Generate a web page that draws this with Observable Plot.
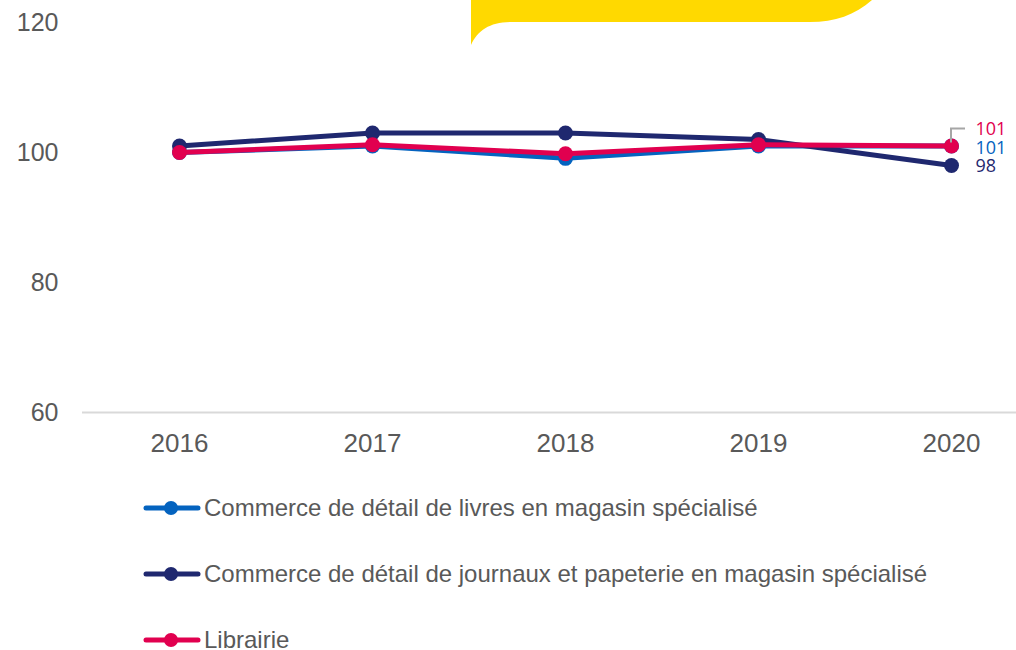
<!DOCTYPE html>
<html>
<head>
<meta charset="utf-8">
<script src="https://cdn.jsdelivr.net/npm/d3@7"></script>
<script src="https://cdn.jsdelivr.net/npm/@observablehq/plot@0.6"></script>
<style>
  html, body { margin: 0; padding: 0; background: #fff; }
  body { width: 1016px; height: 650px; overflow: hidden; position: relative; font-family: "Liberation Sans", Arial, sans-serif; }
  #chart { position: absolute; left: 0; top: 0; }
  #banner { position: absolute; left: 0; top: 0; pointer-events: none; }
  #legend { position: absolute; left: 143px; top: 475px; }
  .row { display: flex; align-items: center; height: 66px; color: #595959; font-size: 24px; white-space: nowrap; }
  .row svg { margin-right: 3px; }
</style>
</head>
<body>
<div id="chart"></div>
<svg id="banner" width="1016" height="60">
  <path d="M471,0 L872,0 C855,15 835,22 810,22 L512,22 C490,22 478,30 471,45 Z" fill="#FFD900"/>
</svg>
<div id="legend"></div>
<script>
const years = ["2016", "2017", "2018", "2019", "2020"];
const seriesNames = [
  "Commerce de détail de livres en magasin spécialisé",
  "Commerce de détail de journaux et papeterie en magasin spécialisé",
  "Librairie"
];
const livres = [100, 101, 99.1, 101, 101];
const journaux = [101, 103, 103, 102, 98];
const librairie = [100, 101.2, 99.8, 101.2, 101];
const endLabels = ["101", "98", "101"];
const yTicks = [60, 80, 100, 120];
const colors = ["#0463BF", "#1F286F", "#E1004F"];

const valuesBySeries = [livres, journaux, librairie];
const rows = [];
seriesNames.forEach((s, i) => years.forEach((y, j) => rows.push({series: s, year: y, value: valuesBySeries[i][j]})));
const bySeries = name => rows.filter(r => r.series === name);
const last = name => bySeries(name).filter(r => r.year === years[years.length - 1]);

const leader = (index, scales) => {
  const px = scales.x(years[4]), py = scales.y(librairie[4]);
  const p = document.createElementNS("http://www.w3.org/2000/svg", "path");
  p.setAttribute("d", `M${px},${py - 3} L${px},${py - 17} L${px + 14},${py - 17}`);
  p.setAttribute("fill", "none");
  p.setAttribute("stroke", "#A6A6A6");
  p.setAttribute("stroke-width", "2");
  return p;
};

const lineMarks = seriesNames.flatMap((s, i) => [
  Plot.line(bySeries(s), {x: "year", y: "value", stroke: colors[i], strokeWidth: 5}),
  Plot.dot(bySeries(s), {x: "year", y: "value", fill: colors[i], r: 7.5})
]);

const labelFont = {textAnchor: "start", fontSize: 18, fontFamily: "Open Sans, sans-serif", dx: 24};

const chart = Plot.plot({
  width: 1016,
  height: 470,
  marginLeft: 82,
  marginRight: 0,
  marginTop: 22,
  marginBottom: 58,
  style: {fontFamily: "Liberation Sans, Arial, sans-serif", color: "#595959", background: "transparent"},
  x: {type: "point", domain: years, range: [179, 951], padding: 0, label: null},
  y: {domain: [60, 120], label: null},
  marks: [
    Plot.axisY(yTicks, {tickSize: 0, tickPadding: 24, fontSize: 25, fill: "#595959", label: null}),
    Plot.axisX(years, {tickSize: 0, tickPadding: 21, fontSize: 26, fill: "#595959", label: null}),
    Plot.ruleY([60], {stroke: "#D9D9D9", strokeWidth: 2}),
    ...lineMarks,
    leader,
    Plot.text(last(seriesNames[2]), {x: "year", y: "value", text: () => endLabels[2], fill: colors[2], dy: -17, ...labelFont}),
    Plot.text(last(seriesNames[0]), {x: "year", y: "value", text: () => endLabels[0], fill: colors[0], dy: 2, ...labelFont}),
    Plot.text(last(seriesNames[1]), {x: "year", y: "value", text: () => endLabels[1], fill: colors[1], dy: 1, ...labelFont})
  ]
});
document.getElementById("chart").appendChild(chart);

const legend = document.getElementById("legend");
seriesNames.forEach((s, i) => {
  const row = document.createElement("div");
  row.className = "row";
  row.innerHTML = `<svg width="58" height="16"><line x1="3" y1="8" x2="55" y2="8" stroke="${colors[i]}" stroke-width="5" stroke-linecap="round"/><circle cx="28" cy="8" r="7" fill="${colors[i]}"/></svg><span>${s}</span>`;
  legend.appendChild(row);
});
</script>
</body>
</html>
